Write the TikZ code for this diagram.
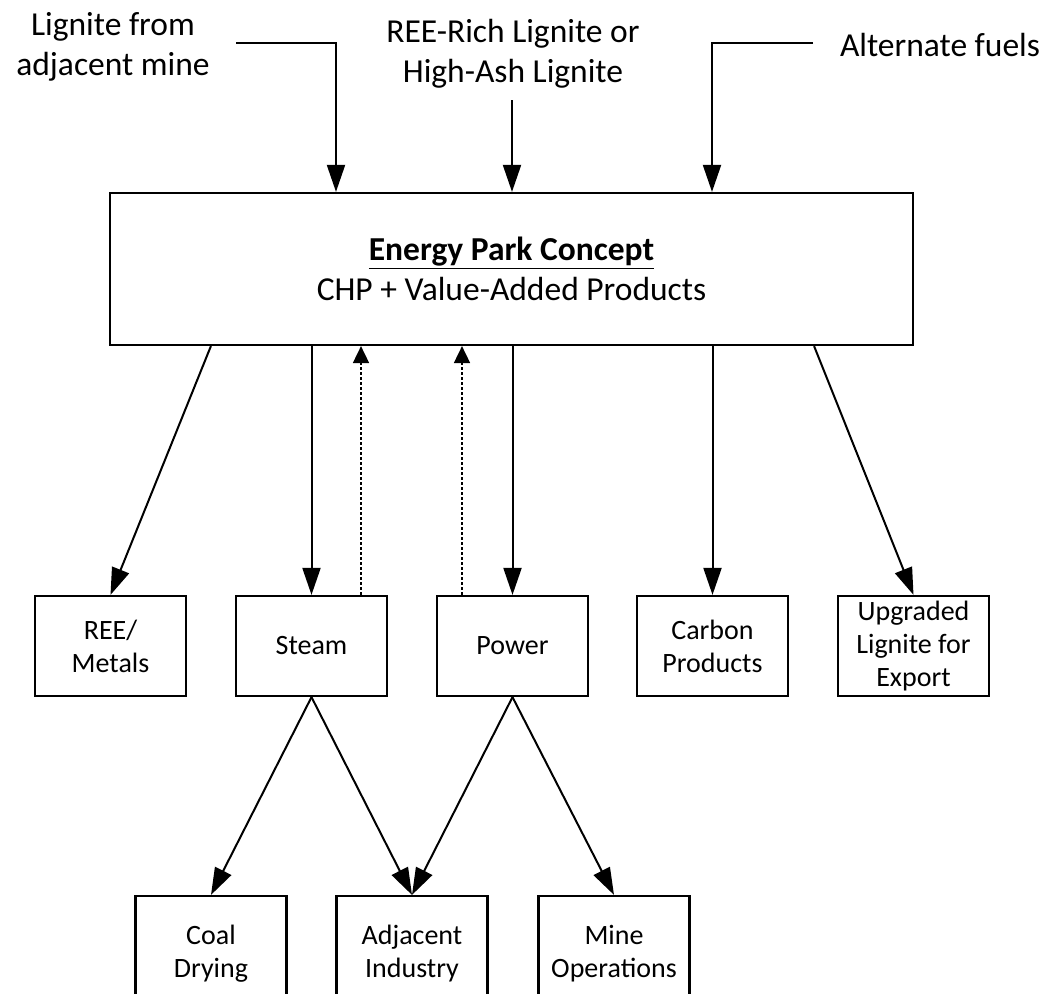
\documentclass[tikz,border=0pt]{standalone}
\usepackage{fontspec}
\setmainfont{Carlito}
\usepackage{tikz}
\usetikzlibrary{arrows.meta}

\tikzset{
    box/.style={draw=black, line width=2.2pt, minimum width=151pt, minimum height=100pt,
        align=center, inner sep=0pt, font=\fontsize{28}{33}\selectfont},
    bigbox/.style={draw=black, line width=2.2pt, minimum width=803pt, minimum height=152pt,
        align=center, inner sep=0pt, font=\fontsize{33.5}{40}\selectfont},
    lbl/.style={align=center, inner sep=0pt, font=\fontsize{33.5}{40}\selectfont},
    flow/.style={draw, line width=2pt, -{Triangle[length=27pt,width=18pt]}},
    back/.style={draw, line width=1.8pt, dash pattern=on 3pt off 2pt, -{Triangle[length=17pt,width=16pt]}}
}

\begin{document}
\begin{tikzpicture}[x=1pt, y=-1pt]
        \clip (0,0) rectangle (1061,994);

        \node[bigbox] (park) at (511.5,269) {\textbf{\underline{Energy Park Concept}}\\CHP + Value-Added Products};

        \node[lbl] (mine) at (113,47) {Lignite from\\adjacent mine};
        \node[lbl] (rich) at (513,54) {REE-Rich Lignite or\\High-Ash Lignite};
        \node[lbl] (alt) at (940,45) {Alternate fuels};
        \coordinate (minein) at (236,43);
        \coordinate (richin) at (512,100);
        \coordinate (altin) at (813,43);

        \node[box] (ree) at (110.5,646) {REE/\\Metals};
        \node[box] (steam) at (311.5,646) {Steam};
        \node[box] (power) at (512.5,646) {Power};
        \node[box] (carbon) at (712.5,646) {Carbon\\Products};
        \node[box] (export) at (913.5,646) {Upgraded\\Lignite for\\Export};

        \node[box, minimum height=116pt] (drying) at (211,954) {Coal\\Drying};
        \node[box, minimum height=116pt] (industry) at (412,954) {Adjacent\\Industry};
        \node[box, minimum height=116pt] (ops) at (614,954) {Mine\\Operations};

        % feeds into the park
        \draw[flow] (minein) -| ([xshift=-175.5pt]park.north);
        \draw[flow] (richin) -- (richin |- park.north);
        \draw[flow] (altin) -| ([xshift=200.5pt]park.north);

        % products
        \draw [flow] ([xshift=102pt]park.south west) -- (ree.north);
        \draw [flow] (steam.north |- park.south) -- (steam.north);
        \draw [flow] (power.north |- park.south) -- (power.north);
        \draw [flow] (carbon.north |- park.south) -- (carbon.north);
        \draw [flow] ([xshift=-100pt]park.south east) -- (export.north);

        % returns
        \draw [back] ([xshift=49.5pt]steam.north) -- ([xshift=49.5pt]steam.north |- park.south);
        \draw [back] ([xshift=-50.5pt]power.north) -- ([xshift=-50.5pt]power.north |- park.south);

        % users
        \draw [flow] (steam.south) -- (drying.north);
        \draw [flow] (steam.south) -- (industry.north);
        \draw [flow] (power.south) -- (industry.north);
        \draw [flow] (power.south) -- (ops.north);
    \end{tikzpicture}
\end{document}
